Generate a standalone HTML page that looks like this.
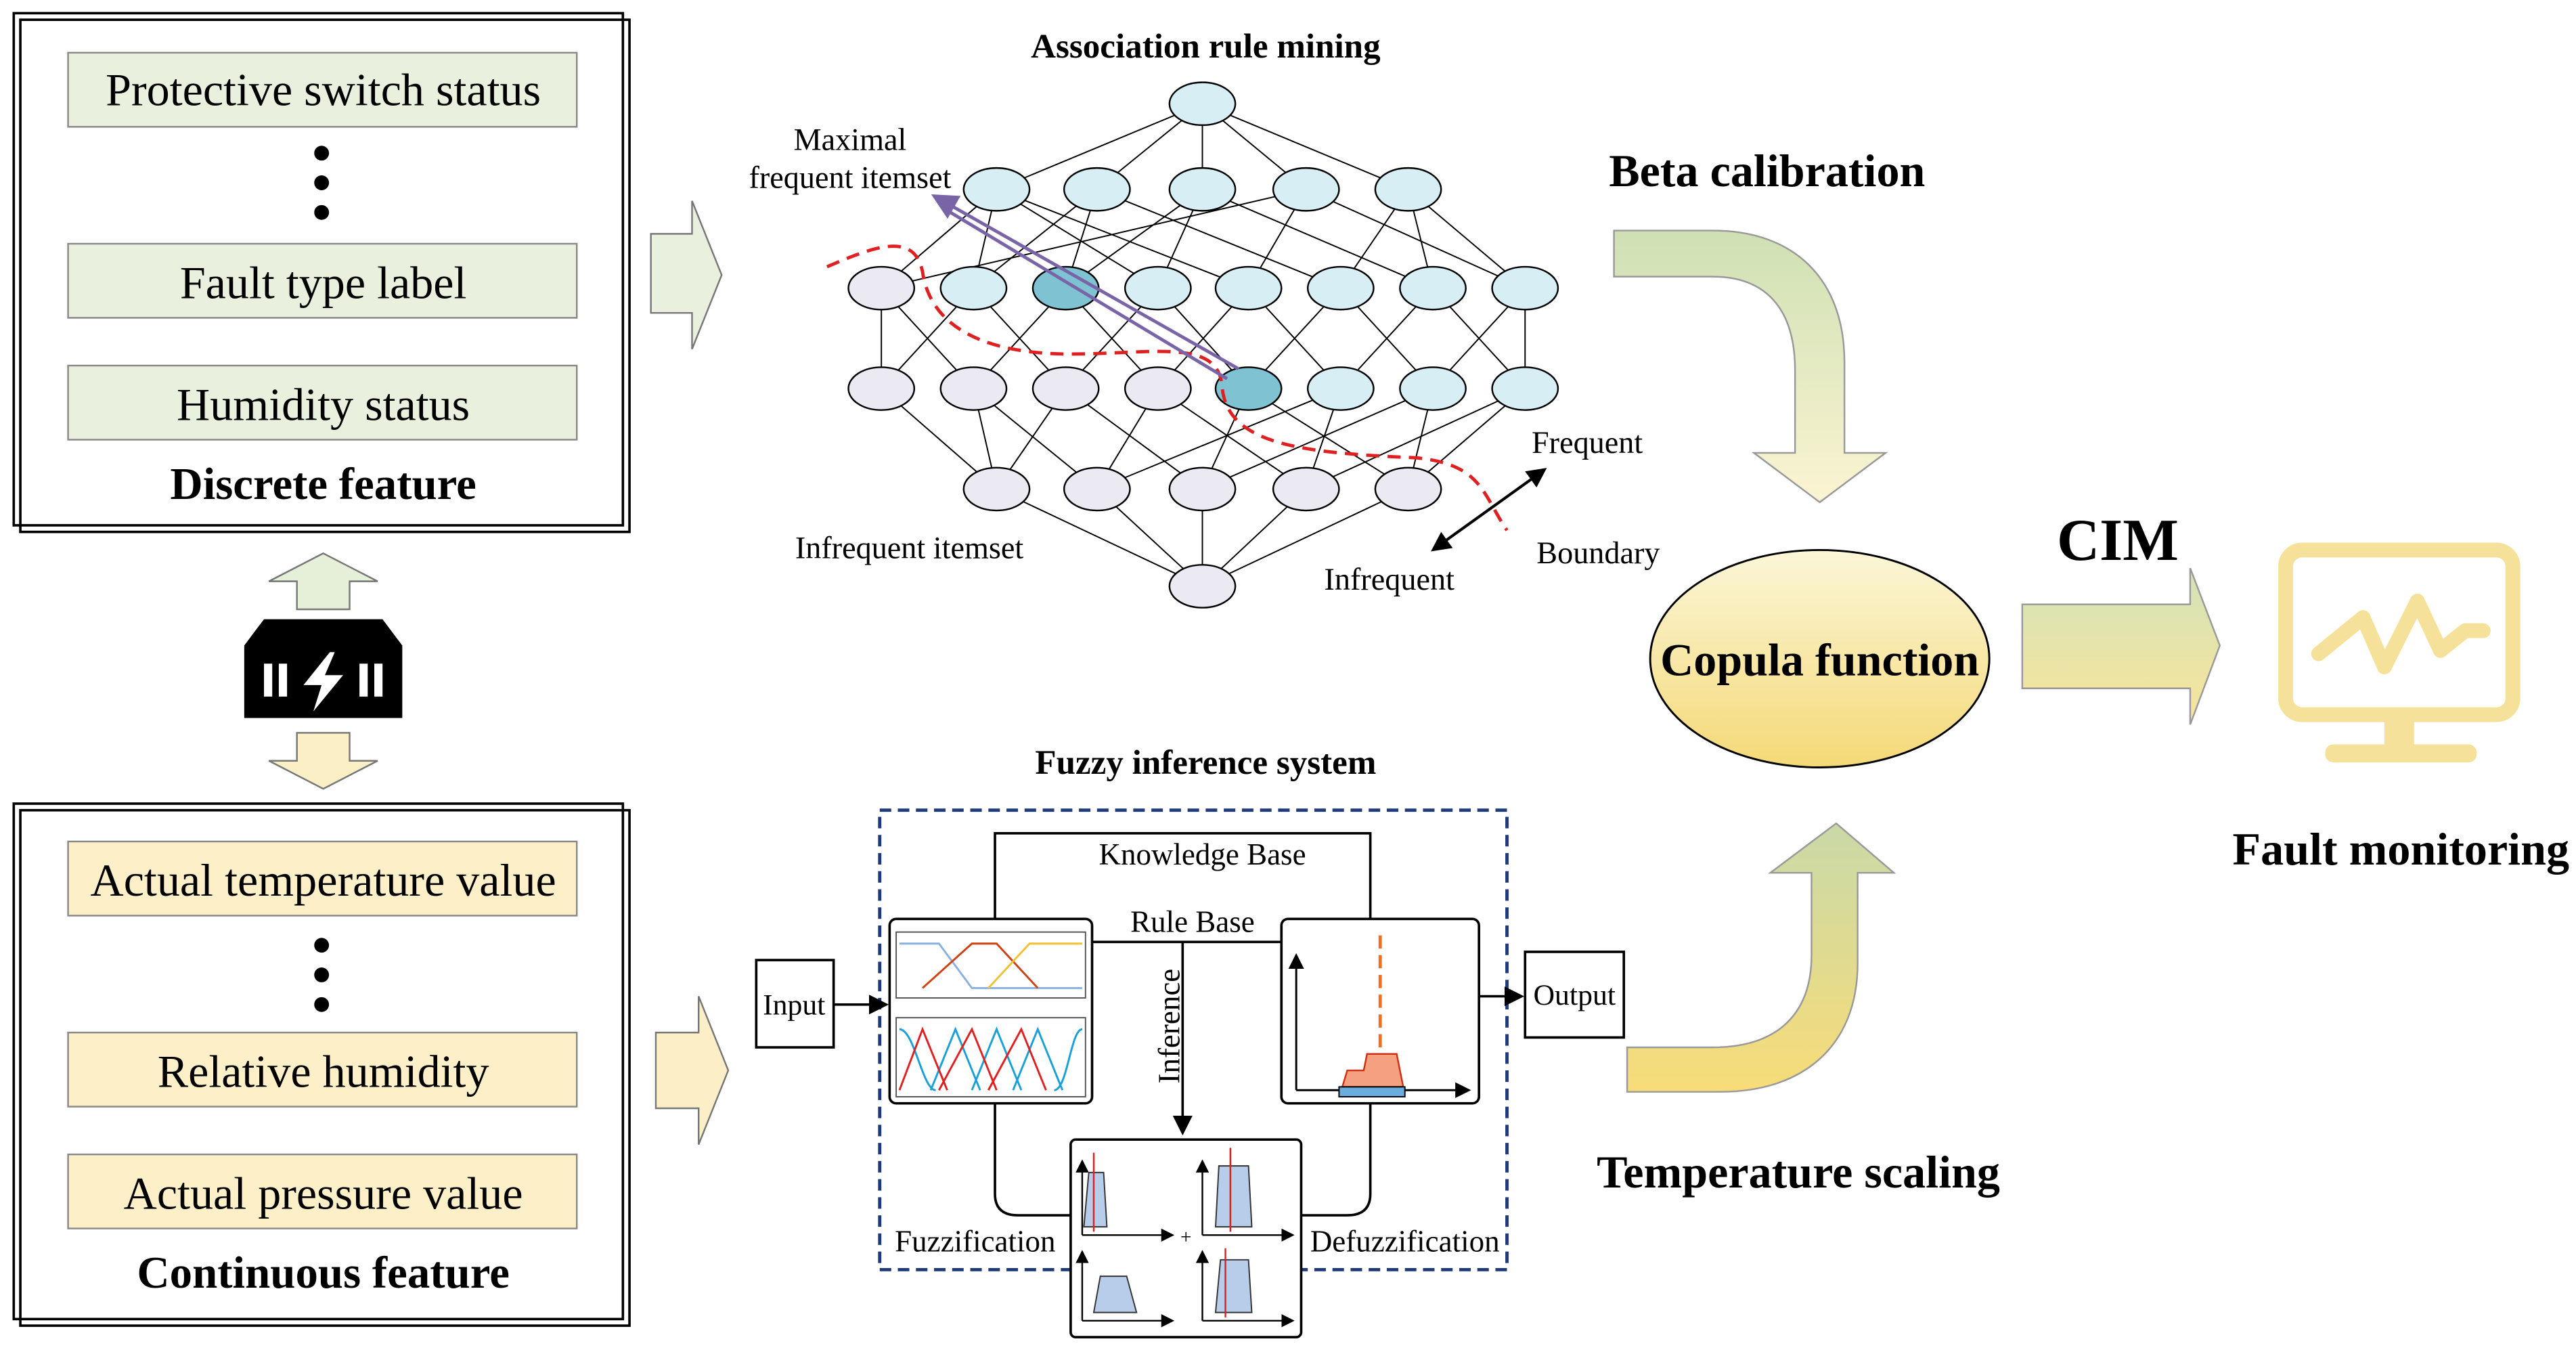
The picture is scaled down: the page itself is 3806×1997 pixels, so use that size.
<!DOCTYPE html>
<html><head><meta charset="utf-8"><style>
html,body{margin:0;padding:0;background:#fff;}
svg{display:block;}
text{font-family:"Liberation Serif",serif;}
</style></head><body>
<svg width="3806" height="1997" viewBox="0 0 1564 821" xmlns="http://www.w3.org/2000/svg">
<defs>
<linearGradient id="gArrowG" x1="0" y1="0" x2="0" y2="1"><stop offset="0" stop-color="#cfe0b4"/><stop offset="1" stop-color="#fbf4d2"/></linearGradient>
<linearGradient id="gArrowY" x1="0" y1="1" x2="0" y2="0"><stop offset="0" stop-color="#f8dc78"/><stop offset="1" stop-color="#c9d9a8"/></linearGradient>
<linearGradient id="gRight" x1="0" y1="0" x2="0" y2="1"><stop offset="0" stop-color="#d3e3b9"/><stop offset="1" stop-color="#f9e49a"/></linearGradient>
<linearGradient id="gEll" x1="0" y1="0" x2="0" y2="1"><stop offset="0" stop-color="#fbf6d8"/><stop offset="1" stop-color="#f5d977"/></linearGradient>
<marker id="ah" markerWidth="8" markerHeight="8" refX="7" refY="4" orient="auto"><path d="M0,0 L8,4 L0,8 z" fill="#000"/></marker>
<marker id="ahp" markerWidth="8" markerHeight="8" refX="7" refY="4" orient="auto"><path d="M0,0 L8,4 L0,8 z" fill="#7a64a8"/></marker>
</defs>

<!-- Left top box -->
<rect x="8" y="8" width="370" height="311" fill="none" stroke="#000" stroke-width="1.5"/>
<rect x="12" y="12" width="370" height="311" fill="none" stroke="#000" stroke-width="1.5"/>
<g fill="#e9f1de" stroke="#888" stroke-width="1">
<rect x="41" y="32" width="309" height="45"/>
<rect x="41" y="148" width="309" height="45"/>
<rect x="41" y="222" width="309" height="45"/>
</g>
<g font-size="28" text-anchor="middle" fill="#000">
<text x="196" y="64">Protective switch status</text>
<text x="196" y="181">Fault type label</text>
<text x="196" y="255">Humidity status</text>
<text x="196" y="303" font-weight="bold" font-size="27.5">Discrete feature</text>
</g>
<circle cx="195" cy="93" r="4.5"/><circle cx="195" cy="111" r="4.5"/><circle cx="195" cy="129" r="4.5"/>

<!-- Left bottom box -->
<rect x="8" y="488" width="370" height="313" fill="none" stroke="#000" stroke-width="1.5"/>
<rect x="12" y="492" width="370" height="313" fill="none" stroke="#000" stroke-width="1.5"/>
<g fill="#fdf0c9" stroke="#888" stroke-width="1">
<rect x="41" y="511" width="309" height="45"/>
<rect x="41" y="627" width="309" height="45"/>
<rect x="41" y="701" width="309" height="45"/>
</g>
<g font-size="28" text-anchor="middle" fill="#000">
<text x="196" y="544">Actual temperature value</text>
<text x="196" y="660">Relative humidity</text>
<text x="196" y="734">Actual pressure value</text>
<text x="196" y="782" font-weight="bold" font-size="27.5">Continuous feature</text>
</g>
<circle cx="195" cy="574" r="4.5"/><circle cx="195" cy="592" r="4.5"/><circle cx="195" cy="610" r="4.5"/>

<!-- up/down arrows and icon -->
<path d="M196,336 L229,353 L212,353 L212,370 L180,370 L180,353 L163,353 Z" fill="#e6efd8" stroke="#777"/>
<path d="M196,479 L229,462 L212,462 L212,445 L180,445 L180,462 L163,462 Z" fill="#fbefc6" stroke="#777"/>
<g>
<path d="M160,376 L232,376 L244,392 L148,392 Z" fill="#000"/>
<rect x="148" y="392" width="96" height="44" fill="#000"/>
<rect x="160" y="403" width="5" height="20" fill="#fff"/><rect x="169" y="403" width="5" height="20" fill="#fff"/>
<rect x="218" y="403" width="5" height="20" fill="#fff"/><rect x="227" y="403" width="5" height="20" fill="#fff"/>
<path d="M200,396 L184,416 L195,416 L190,432 L208,410 L197,410 L203,396 Z" fill="#fff"/>
</g>

<!-- big right arrows -->
<path d="M395,142 L420,142 L420,122 L438,167 L420,212 L420,190 L395,190 Z" fill="#e9f1de" stroke="#777"/>
<path d="M398,627 L424,627 L424,605 L442,650 L424,695 L424,673 L398,673 Z" fill="#fcefc7" stroke="#777"/>

<!-- Association rule mining -->
<text x="732" y="35" font-size="21" font-weight="bold" text-anchor="middle">Association rule mining</text>
<g stroke="#000" stroke-width="0.8">
<line x1="730" y1="63" x2="605" y2="115"/><line x1="730" y1="63" x2="666" y2="115"/><line x1="730" y1="63" x2="730" y2="115"/><line x1="730" y1="63" x2="793" y2="115"/><line x1="730" y1="63" x2="855" y2="115"/>
<line x1="605" y1="115" x2="535" y2="175"/><line x1="605" y1="115" x2="591" y2="175"/><line x1="605" y1="115" x2="703" y2="175"/><line x1="605" y1="115" x2="758" y2="175"/>
<line x1="666" y1="115" x2="591" y2="175"/><line x1="666" y1="115" x2="647" y2="175"/><line x1="666" y1="115" x2="814" y2="175"/>
<line x1="730" y1="115" x2="647" y2="175"/><line x1="730" y1="115" x2="703" y2="175"/><line x1="730" y1="115" x2="870" y2="175"/>
<line x1="793" y1="115" x2="535" y2="175"/><line x1="793" y1="115" x2="758" y2="175"/><line x1="793" y1="115" x2="926" y2="175"/>
<line x1="855" y1="115" x2="814" y2="175"/><line x1="855" y1="115" x2="870" y2="175"/><line x1="855" y1="115" x2="926" y2="175"/>
<line x1="535" y1="175" x2="535" y2="236"/><line x1="535" y1="175" x2="591" y2="236"/><line x1="591" y1="175" x2="535" y2="236"/><line x1="591" y1="175" x2="647" y2="236"/>
<line x1="647" y1="175" x2="591" y2="236"/><line x1="647" y1="175" x2="703" y2="236"/><line x1="703" y1="175" x2="647" y2="236"/><line x1="703" y1="175" x2="758" y2="236"/>
<line x1="758" y1="175" x2="703" y2="236"/><line x1="758" y1="175" x2="814" y2="236"/><line x1="814" y1="175" x2="758" y2="236"/><line x1="814" y1="175" x2="870" y2="236"/>
<line x1="870" y1="175" x2="814" y2="236"/><line x1="870" y1="175" x2="926" y2="236"/><line x1="926" y1="175" x2="870" y2="236"/><line x1="926" y1="175" x2="926" y2="236"/>
<line x1="535" y1="236" x2="605" y2="297"/><line x1="591" y1="236" x2="605" y2="297"/><line x1="591" y1="236" x2="666" y2="297"/><line x1="647" y1="236" x2="605" y2="297"/><line x1="647" y1="236" x2="730" y2="297"/>
<line x1="703" y1="236" x2="666" y2="297"/><line x1="703" y1="236" x2="793" y2="297"/><line x1="758" y1="236" x2="730" y2="297"/><line x1="758" y1="236" x2="855" y2="297"/>
<line x1="814" y1="236" x2="666" y2="297"/><line x1="814" y1="236" x2="793" y2="297"/><line x1="870" y1="236" x2="730" y2="297"/><line x1="870" y1="236" x2="855" y2="297"/><line x1="926" y1="236" x2="793" y2="297"/><line x1="926" y1="236" x2="855" y2="297"/>
<line x1="605" y1="297" x2="730" y2="356"/><line x1="666" y1="297" x2="730" y2="356"/><line x1="730" y1="297" x2="730" y2="356"/><line x1="793" y1="297" x2="730" y2="356"/><line x1="855" y1="297" x2="730" y2="356"/>
</g>
<g stroke="#000" stroke-width="1">
<ellipse cx="730" cy="63" rx="20" ry="13" fill="#d7eef5"/>
<g fill="#d7eef5"><ellipse cx="605" cy="115" rx="20" ry="13"/><ellipse cx="666" cy="115" rx="20" ry="13"/><ellipse cx="730" cy="115" rx="20" ry="13"/><ellipse cx="793" cy="115" rx="20" ry="13"/><ellipse cx="855" cy="115" rx="20" ry="13"/></g>
<ellipse cx="535" cy="175" rx="20" ry="13" fill="#ebe9f1"/>
<g fill="#d7eef5"><ellipse cx="591" cy="175" rx="20" ry="13"/><ellipse cx="703" cy="175" rx="20" ry="13"/><ellipse cx="758" cy="175" rx="20" ry="13"/><ellipse cx="814" cy="175" rx="20" ry="13"/><ellipse cx="870" cy="175" rx="20" ry="13"/><ellipse cx="926" cy="175" rx="20" ry="13"/></g>
<ellipse cx="647" cy="175" rx="20" ry="13" fill="#7fc3d3"/>
<g fill="#ebe9f1"><ellipse cx="535" cy="236" rx="20" ry="13"/><ellipse cx="591" cy="236" rx="20" ry="13"/><ellipse cx="647" cy="236" rx="20" ry="13"/><ellipse cx="703" cy="236" rx="20" ry="13"/></g>
<ellipse cx="758" cy="236" rx="20" ry="13" fill="#7fc3d3"/>
<g fill="#d7eef5"><ellipse cx="814" cy="236" rx="20" ry="13"/><ellipse cx="870" cy="236" rx="20" ry="13"/><ellipse cx="926" cy="236" rx="20" ry="13"/></g>
<g fill="#ebe9f1"><ellipse cx="605" cy="297" rx="20" ry="13"/><ellipse cx="666" cy="297" rx="20" ry="13"/><ellipse cx="730" cy="297" rx="20" ry="13"/><ellipse cx="793" cy="297" rx="20" ry="13"/><ellipse cx="855" cy="297" rx="20" ry="13"/><ellipse cx="730" cy="356" rx="20" ry="13"/></g>
</g>
<path d="M502,162 C530,150 555,140 560,165 C565,200 600,215 650,215 C700,215 740,205 742,235 C745,270 790,275 860,278 C900,282 900,300 915,322" fill="none" stroke="#e02020" stroke-width="2" stroke-dasharray="8,5"/>
<line x1="752" y1="224" x2="567" y2="119" stroke="#7a64a8" stroke-width="2" marker-end="url(#ahp)"/>
<line x1="745" y1="230" x2="572" y2="126" stroke="#7a64a8" stroke-width="2"/>
<g font-size="19" fill="#000">
<text x="516" y="91" text-anchor="middle">Maximal</text>
<text x="516" y="114" text-anchor="middle">frequent itemset</text>
<text x="552" y="339" text-anchor="middle">Infrequent itemset</text>
<text x="930" y="275">Frequent</text>
<text x="933" y="342">Boundary</text>
<text x="804" y="358">Infrequent</text>
</g>
<line x1="878" y1="328" x2="938" y2="285" stroke="#000" stroke-width="1.5" marker-end="url(#ah)"/>
<line x1="930" y1="291" x2="870" y2="334" stroke="#000" stroke-width="1.5" marker-end="url(#ah)"/>

<!-- Beta calibration arrow -->
<text x="1073" y="113" font-size="28" font-weight="bold" text-anchor="middle">Beta calibration</text>
<path d="M980,140 L1040,140 C1090,140 1120,170 1120,220 L1120,275 L1145,275 L1105,305 L1065,275 L1090,275 L1090,225 C1090,185 1070,168 1040,168 L980,168 Z" fill="url(#gArrowG)" stroke="#999"/>

<!-- Copula -->
<ellipse cx="1105" cy="400" rx="103" ry="66" fill="url(#gEll)" stroke="#000" stroke-width="1.2"/>
<text x="1105" y="410" font-size="28" font-weight="bold" text-anchor="middle">Copula function</text>

<text x="1286" y="340" font-size="36" font-weight="bold" text-anchor="middle">CIM</text>
<path d="M1228,367 L1330,367 L1330,345 L1348,392 L1330,440 L1330,418 L1228,418 Z" fill="url(#gRight)" stroke="#999"/>

<!-- Monitor -->
<rect x="1388" y="334" width="138" height="100" rx="10" fill="none" stroke="#f5e19a" stroke-width="9"/>
<polyline points="1408,397 1435,375 1448,405 1468,365 1482,395 1497,383 1508,383" fill="none" stroke="#f5e19a" stroke-width="9" stroke-linejoin="round" stroke-linecap="round"/>
<rect x="1448" y="434" width="18" height="20" fill="#f5e19a"/>
<rect x="1412" y="452" width="92" height="11" rx="5" fill="#f5e19a"/>
<text x="1458" y="525" font-size="28" font-weight="bold" text-anchor="middle">Fault monitoring</text>

<!-- Temperature scaling arrow -->
<path d="M988,636 L1040,636 C1080,636 1100,615 1100,580 L1100,530 L1075,530 L1115,500 L1150,530 L1128,530 L1128,585 C1128,635 1095,663 1045,663 L988,663 Z" fill="url(#gArrowY)" stroke="#999"/>
<text x="1092" y="721" font-size="28" font-weight="bold" text-anchor="middle">Temperature scaling</text>

<!-- Fuzzy inference system -->
<text x="732" y="470" font-size="21" font-weight="bold" text-anchor="middle">Fuzzy inference system</text>
<rect x="534" y="492" width="381" height="279" fill="none" stroke="#1f3a7a" stroke-width="2" stroke-dasharray="7,4"/>
<path d="M604,558 L604,506 L832,506 L832,558" fill="none" stroke="#000" stroke-width="1.5"/>
<text x="730" y="525" font-size="18.5" text-anchor="middle">Knowledge Base</text>
<text x="724" y="566" font-size="18.5" text-anchor="middle">Rule Base</text>
<line x1="663" y1="572" x2="778" y2="572" stroke="#000" stroke-width="1.5"/>
<line x1="718" y1="572" x2="718" y2="688" stroke="#000" stroke-width="1.5" marker-end="url(#ah)"/>
<text x="0" y="0" font-size="18.5" transform="translate(716,658) rotate(-90)">Inference</text>
<path d="M604,670 L604,725 Q604,738 618,738 L650,738" fill="none" stroke="#000" stroke-width="1.5"/>
<path d="M832,670 L832,725 Q832,738 818,738 L790,738" fill="none" stroke="#000" stroke-width="1.5"/>
<text x="592" y="760" font-size="18.5" text-anchor="middle">Fuzzification</text>
<text x="853" y="760" font-size="18.5" text-anchor="middle">Defuzzification</text>

<rect x="459" y="583" width="47" height="53" fill="#fff" stroke="#000" stroke-width="1.5"/>
<text x="482" y="616" font-size="18" text-anchor="middle">Input</text>
<line x1="506" y1="610" x2="538" y2="610" stroke="#000" stroke-width="1.5" marker-end="url(#ah)"/>
<rect x="926" y="578" width="60" height="52" fill="#fff" stroke="#000" stroke-width="1.5"/>
<text x="956" y="610" font-size="18" text-anchor="middle">Output</text>
<line x1="898" y1="605" x2="924" y2="605" stroke="#000" stroke-width="1.5" marker-end="url(#ah)"/>

<!-- Fuzzification box -->
<rect x="540" y="558" width="123" height="112" rx="4" fill="#fff" stroke="#000" stroke-width="1.5"/>
<rect x="544" y="566" width="115" height="40" fill="#fff" stroke="#555" stroke-width="0.8"/>
<polyline points="546,573 570,573 590,600 657,600" fill="none" stroke="#8ab0e0" stroke-width="1.2"/>
<polyline points="560,600 590,573 605,573 630,600" fill="none" stroke="#d04010" stroke-width="1.2"/>
<polyline points="600,600 625,573 657,573" fill="none" stroke="#f2c030" stroke-width="1.2"/>
<rect x="544" y="618" width="115" height="48" fill="#fff" stroke="#555" stroke-width="0.8"/>
<path d="M546,625 C555,625 560,662 568,662 M565,662 L580,625 L595,662 M590,662 L605,625 L620,662 M615,662 L630,625 L645,662 M640,662 C648,662 650,625 657,625" fill="none" stroke="#1aa0d8" stroke-width="1.2"/>
<path d="M546,662 L560,625 L575,662 M570,662 L590,625 L605,662 M600,662 L620,625 L635,662" fill="none" stroke="#e02020" stroke-width="1.2"/>

<!-- Defuzz box -->
<rect x="778" y="558" width="120" height="112" rx="4" fill="#fff" stroke="#000" stroke-width="1.5"/>
<line x1="787" y1="662" x2="787" y2="580" stroke="#000" stroke-width="1.2" marker-end="url(#ah)"/>
<line x1="787" y1="662" x2="892" y2="662" stroke="#000" stroke-width="1.2" marker-end="url(#ah)"/>
<line x1="838" y1="568" x2="838" y2="640" stroke="#f07020" stroke-width="2" stroke-dasharray="8,4"/>
<path d="M815,660 L818,650 L828,650 L830,640 L848,640 L852,660 Z" fill="#f5a080" stroke="#d03010"/>
<rect x="813" y="660" width="40" height="6" fill="#6aaee0" stroke="#000" stroke-width="0.8"/>

<!-- Inference box -->
<rect x="650" y="692" width="140" height="120" rx="3" fill="#fff" stroke="#000" stroke-width="1.5"/>
<g stroke="#000" stroke-width="1" fill="none">
<line x1="657" y1="750" x2="657" y2="705" marker-end="url(#ah)"/><line x1="657" y1="750" x2="712" y2="750" marker-end="url(#ah)"/>
<line x1="730" y1="750" x2="730" y2="705" marker-end="url(#ah)"/><line x1="730" y1="750" x2="785" y2="750" marker-end="url(#ah)"/>
<line x1="657" y1="802" x2="657" y2="760" marker-end="url(#ah)"/><line x1="657" y1="802" x2="712" y2="802" marker-end="url(#ah)"/>
<line x1="730" y1="802" x2="730" y2="760" marker-end="url(#ah)"/><line x1="730" y1="802" x2="785" y2="802" marker-end="url(#ah)"/>
</g>
<g fill="#b8cdea" stroke="#333" stroke-width="0.8">
<path d="M658,745 L661,712 L670,712 L672,745 Z"/>
<path d="M738,745 L740,708 L758,708 L760,745 Z"/>
<path d="M664,797 L668,775 L684,775 L690,797 Z"/>
<path d="M738,797 L741,765 L758,765 L760,797 Z"/>
</g>
<g stroke="#e02020" stroke-width="1"><line x1="664" y1="700" x2="664" y2="748"/><line x1="747" y1="697" x2="747" y2="748"/><line x1="744" y1="758" x2="744" y2="800"/></g>
<text x="720" y="755" font-size="12" text-anchor="middle">+</text>
</svg>
</body></html>
